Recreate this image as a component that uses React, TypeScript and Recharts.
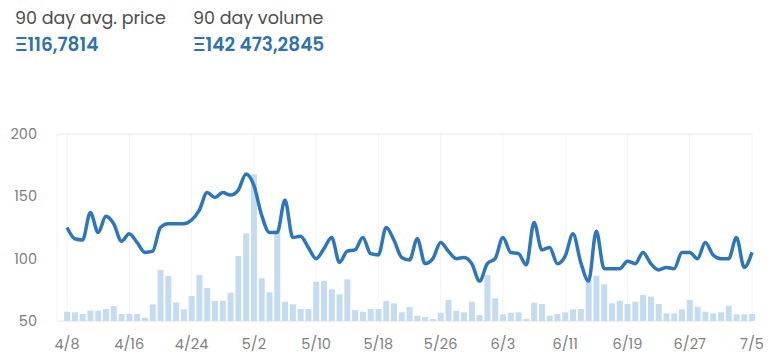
import {
  ComposedChart,
  Bar,
  Line,
  XAxis,
  YAxis,
  CartesianGrid,
} from "recharts";

// one entry per day, 4/8 .. 7/5
const price = [
  125, 116, 115, 137, 121, 134, 128, 114, 120, 113, 105, 106, 125, 128, 128, 128,
  131, 139, 153, 149, 153, 151, 155, 168, 159, 135, 121, 121, 147, 117, 118, 109,
  100, 108, 117, 97, 106, 107, 117, 104, 103, 125, 115, 101, 99, 116, 96, 100,
  113, 106, 100, 101, 96, 82, 96, 100, 117, 105, 104, 95, 129, 107, 109, 96,
  102, 120, 97, 82, 122, 92, 92, 92, 98, 96, 105, 96, 91, 93, 92, 105,
  105, 100, 113, 103, 100, 100, 117, 93, 105,
];

const volume = [
  707, 661, 532, 783, 783, 912, 1140, 532, 555, 532, 251, 1269, 3876, 3420, 1421, 889,
  1900, 3496, 2508, 1520, 1543, 2151, 4940, 6665, 11149, 3245, 2181, 6916, 1467, 1269, 912, 912,
  2987, 3040, 2409, 2029, 3169, 836, 707, 912, 912, 1520, 1345, 661, 1064, 403, 304, 152,
  631, 1596, 783, 661, 1467, 456, 3496, 1725, 509, 631, 661, 152, 1391, 1292, 403, 532,
  661, 889, 912, 3116, 3443, 2789, 1345, 1543, 1292, 1467, 1976, 1847, 1292, 585, 585, 889,
  1596, 1087, 707, 585, 661, 1163, 509, 509, 532,
];

const tickDays = [0, 8, 16, 24, 32, 40, 48, 56, 64, 72, 80, 88];
const tickLabels = ["4/8", "4/16", "4/24", "5/2", "5/10", "5/18", "5/26", "6/3", "6/11", "6/19", "6/27", "7/5"];

const data = price.map((p, i) => ({ day: i, price: p, volume: volume[i] }));

const font = "Poppins, Inter, 'Noto Sans', sans-serif";
const tick = { fill: "#808080", fontSize: 14.5, fontFamily: font };

const label = { position: "absolute" as const, fontSize: 17.5, color: "#4d4d4d", lineHeight: "24px" };
const value = { position: "absolute" as const, fontSize: 18.5, fontWeight: 600, color: "#2f72b0", lineHeight: "24px" };

export default function App() {
  return (
    <div style={{ position: "absolute", left: 0, top: 0, width: 768, height: 363, background: "#fff", fontFamily: font }}>
      <div style={{ ...label, left: 15, top: 6 }}>90 day avg. price</div>
      <div style={{ ...value, left: 15, top: 33 }}>Ξ116,7814</div>
      <div style={{ ...label, left: 193, top: 6 }}>90 day volume</div>
      <div style={{ ...value, left: 193, top: 33 }}>Ξ142 473,2845</div>
      <div style={{ position: "absolute", left: 0, top: 120 }}>
        <ComposedChart width={768} height={243} data={data} margin={{ top: 14, right: 16, left: 0, bottom: 12 }}>
          <CartesianGrid stroke="#f4f4f4" horizontal={false} />
          <CartesianGrid stroke="#e6e6e6" vertical={false} />
          <XAxis
            dataKey="day"
            type="number"
            domain={[0, 88]}
            ticks={tickDays}
            tickFormatter={(d: number) => tickLabels[tickDays.indexOf(d)]}
            padding={{ left: 10, right: 0 }}
            axisLine={false}
            tickLine={false}
            tick={tick}
            tickMargin={12}
            interval={0}
          />
          <YAxis
            yAxisId="price"
            domain={[50, 200]}
            ticks={[50, 100, 150, 200]}
            width={57}
            axisLine={false}
            tickLine={false}
            tick={tick}
            tickMargin={14}
          />
          <YAxis yAxisId="vol" hide domain={[0, 14212]} />
          <Bar yAxisId="vol" dataKey="volume" fill="#c4dbf0" barSize={6} isAnimationActive={false} />
          <Line
            yAxisId="price"
            type="monotone"
            dataKey="price"
            stroke="#2c76bd"
            strokeWidth={3.5}
            dot={false}
            isAnimationActive={false}
          />
        </ComposedChart>
      </div>
    </div>
  );
}
